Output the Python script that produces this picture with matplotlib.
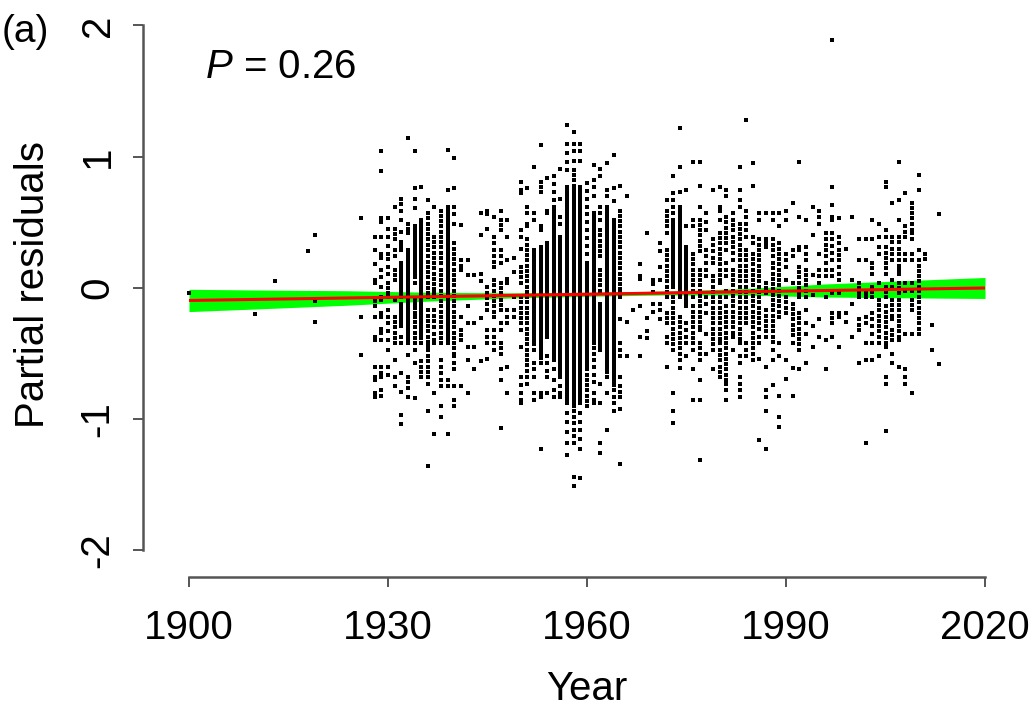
import matplotlib
matplotlib.use("Agg")
import matplotlib.pyplot as plt

plt.rcParams['font.family'] = ['Liberation Sans', 'DejaVu Sans']
plt.rcParams['mathtext.fontset'] = 'custom'
plt.rcParams['mathtext.it'] = 'Liberation Sans:italic'
plt.rcParams['mathtext.rm'] = 'Liberation Sans'

# ---------------- data ----------------
x_ticks = [1900, 1930, 1960, 1990, 2020]
x_ticklabels = ["1900", "1930", "1960", "1990", "2020"]
y_ticks = [-2, -1, 0, 1, 2]
y_ticklabels = ["-2", "-1", "0", "1", "2"]

fit_years = [1900, 2020]
fit_values = [-0.095, 0.0]

band_years = [1900, 1912, 1924, 1936, 1948, 1960, 1972, 1984, 1996, 2008, 2020]
band_lower = [-0.18, -0.156, -0.131, -0.10, -0.077, -0.063, -0.053, -0.054, -0.069, -0.075, -0.08]
band_upper = [-0.01, -0.016, -0.021, -0.032, -0.037, -0.033, -0.023, -0.004, 0.031, 0.056, 0.08]

years_early = [1900, 1910, 1913, 1918, 1919, 1926]
resid_early = [
    [-0.04], [-0.20], [0.05], [0.28], [0.40, -0.10, -0.26], [0.53, -0.22, -0.51],
]

years_1928 = [1928, 1929, 1930, 1931, 1932, 1933, 1934, 1935, 1936, 1937, 1938,
              1939, 1940, 1941, 1942, 1943, 1944, 1945, 1946, 1947, 1948, 1949]
resid_1928 = [
    [0.39, 0.29, 0.18, 0.06, 0.04, -0.08, -0.10, -0.14, -0.22, -0.37, -0.40, -0.60, -0.68, -0.70, -0.80, -0.83],
    [1.04, 0.89, 0.53, 0.50, 0.39, 0.26, 0.23, 0.14, 0.08, 0.01, -0.07, -0.09, -0.19, -0.22, -0.31, -0.34, -0.40, -0.60, -0.65, -0.68, -0.78, -0.82],
    [0.53, 0.45, 0.39, 0.32, 0.26, 0.22, 0.16, 0.11, 0.04, 0.00, -0.04, -0.07, -0.17, -0.22, -0.27, -0.33, -0.40, -0.47, -0.60, -0.66],
    [0.62, 0.45, 0.41, 0.37, 0.29, 0.24, 0.14, 0.10, 0.06, -0.09, -0.22, -0.26, -0.30, -0.34, -0.38, -0.42, -0.55, -0.68, -0.75],
    [0.68, 0.64, 0.59, 0.52, 0.43, 0.35, 0.32, 0.29, 0.19, 0.16, 0.13, 0.10, 0.07, 0.04, 0.01, -0.02, -0.05, -0.07, -0.12, -0.15, -0.18, -0.21, -0.24, -0.27, -0.29, -0.37, -0.42, -0.65, -0.79, -0.97, -1.04],
    [1.14, 0.49, 0.45, 0.42, 0.29, 0.26, 0.23, 0.20, 0.17, 0.14, 0.11, 0.08, 0.05, 0.02, -0.01, -0.04, -0.07, -0.10, -0.13, -0.16, -0.19, -0.22, -0.25, -0.28, -0.31, -0.34, -0.37, -0.40, -0.42, -0.51, -0.68, -0.72, -0.76, -0.83],
    [1.04, 0.76, 0.68, 0.61, 0.47, 0.44, 0.41, 0.38, 0.35, 0.32, 0.29, 0.26, 0.23, 0.20, 0.17, 0.14, 0.11, 0.08, 0.04, -0.09, -0.12, -0.15, -0.19, -0.22, -0.26, -0.30, -0.34, -0.38, -0.42, -0.47, -0.57, -0.84],
    [0.77, 0.52, 0.49, 0.46, 0.43, 0.40, 0.37, 0.34, 0.31, 0.28, 0.25, 0.22, 0.19, 0.16, 0.13, 0.10, 0.07, 0.04, 0.01, -0.02, -0.05, -0.08, -0.11, -0.14, -0.17, -0.20, -0.23, -0.26, -0.29, -0.32, -0.35, -0.38, -0.42, -0.56, -0.60, -0.64, -0.68],
    [0.67, 0.57, 0.53, 0.49, 0.45, 0.41, 0.37, 0.33, 0.29, 0.24, 0.20, 0.16, 0.12, 0.08, 0.04, 0.00, -0.04, -0.07, -0.17, -0.21, -0.25, -0.29, -0.33, -0.37, -0.41, -0.44, -0.47, -0.52, -0.56, -0.60, -0.64, -0.68, -0.73, -0.94, -1.36],
    [0.62, 0.39, 0.35, 0.31, 0.27, 0.23, 0.19, 0.15, 0.11, 0.07, 0.03, -0.01, -0.04, -0.07, -0.17, -0.21, -0.25, -0.30, -0.35, -0.40, -0.42, -0.80, -1.11],
    [0.59, 0.55, 0.51, 0.47, 0.43, 0.39, 0.35, 0.31, 0.27, 0.23, 0.19, 0.14, 0.10, 0.06, 0.02, -0.02, -0.06, -0.10, -0.14, -0.18, -0.22, -0.26, -0.30, -0.34, -0.38, -0.42, -0.55, -0.60, -0.65, -0.70, -0.75, -0.90, -0.98],
    [1.05, 0.75, 0.62, 0.59, 0.56, 0.53, 0.50, 0.47, 0.44, 0.41, 0.38, 0.35, 0.32, 0.29, 0.26, 0.23, 0.20, 0.17, 0.14, 0.11, 0.08, 0.05, 0.02, -0.01, -0.04, -0.07, -0.10, -0.13, -0.16, -0.19, -0.22, -0.25, -0.28, -0.31, -0.34, -0.37, -0.40, -0.42, -0.70, -0.75, -1.11],
    [0.99, 0.76, 0.62, 0.56, 0.49, 0.34, 0.30, 0.26, 0.22, 0.18, 0.14, 0.10, 0.06, 0.02, -0.02, -0.06, -0.10, -0.14, -0.18, -0.22, -0.26, -0.30, -0.34, -0.38, -0.42, -0.46, -0.50, -0.52, -0.57, -0.62, -0.75, -0.85, -0.90],
    [0.48, 0.21, 0.17, 0.14, -0.22, -0.32, -0.36, -0.40, -0.75],
    [0.21, 0.10, -0.14, -0.27, -0.45, -0.55, -0.80],
    [0.10, -0.27, -0.45, -0.62],
    [0.57, 0.40, 0.11, 0.05, -0.23, -0.56],
    [0.59, 0.56, 0.45, 0.01, -0.04, -0.08, -0.12, -0.17, -0.32, -0.37, -0.42, -0.54],
    [0.54, 0.39, 0.34, 0.29, 0.24, 0.20, 0.16, 0.06, 0.02, -0.02, -0.06, -0.10, -0.14, -0.18, -0.22, -0.32, -0.37, -0.42, -0.47],
    [0.59, 0.52, 0.48, 0.44, 0.29, 0.24, 0.19, 0.04, 0.00, -0.04, -0.09, -0.13, -0.17, -0.27, -0.32, -0.42, -0.46, -0.50, -0.62, -0.70, -1.07],
    [0.52, 0.39, 0.21, 0.07, 0.04, -0.17, -0.22, -0.27, -0.60, -0.80],
    [0.23, 0.12, -0.07, -0.17, -0.22],
]

years_1950 = [1950, 1951, 1952, 1953, 1954, 1955, 1956, 1957, 1958, 1959, 1960,
              1961, 1962, 1963, 1964, 1965, 1966, 1967, 1968, 1969, 1970, 1971]
resid_1950 = [
    [0.81, 0.75, 0.72, 0.44, 0.39, 0.30, 0.16, 0.12, 0.08, 0.04, -0.07, -0.11, -0.15, -0.19, -0.23, -0.27, -0.32, -0.45, -0.68, -0.74, -0.80, -0.85, -0.88],
    [0.76, 0.62, 0.57, 0.49, 0.47, 0.37, 0.33, 0.29, 0.25, 0.21, 0.17, 0.13, 0.09, 0.05, 0.01, -0.03, -0.07, -0.11, -0.15, -0.19, -0.23, -0.27, -0.31, -0.35, -0.39, -0.43, -0.47, -0.51, -0.55, -0.59, -0.63, -0.68, -0.73],
    [0.92, 0.57, 0.52, 0.29, 0.26, 0.23, 0.20, 0.17, 0.14, 0.11, 0.08, 0.05, 0.02, -0.01, -0.04, -0.07, -0.10, -0.13, -0.16, -0.19, -0.22, -0.25, -0.28, -0.31, -0.34, -0.37, -0.40, -0.43, -0.47, -0.57, -0.62, -0.68, -0.80, -0.85],
    [1.09, 0.81, 0.77, 0.73, 0.47, 0.44, 0.31, 0.28, 0.25, 0.22, 0.19, 0.16, 0.13, 0.10, 0.07, 0.04, 0.01, -0.02, -0.05, -0.08, -0.11, -0.14, -0.17, -0.20, -0.23, -0.26, -0.29, -0.32, -0.35, -0.38, -0.41, -0.44, -0.47, -0.50, -0.53, -0.57, -0.80, -0.83, -1.23],
    [0.84, 0.59, 0.57, 0.34, 0.31, 0.28, 0.25, 0.22, 0.19, 0.16, 0.13, 0.10, 0.07, 0.04, 0.01, -0.02, -0.05, -0.08, -0.11, -0.14, -0.17, -0.20, -0.23, -0.26, -0.29, -0.32, -0.35, -0.37, -0.52, -0.57, -0.63, -0.68, -0.80],
    [0.85, 0.79, 0.73, 0.67, 0.62, 0.59, 0.56, 0.53, 0.50, 0.47, 0.44, 0.41, 0.38, 0.35, 0.32, 0.29, 0.26, 0.23, 0.20, 0.17, 0.14, 0.11, 0.08, 0.05, 0.02, -0.01, -0.04, -0.07, -0.10, -0.13, -0.16, -0.19, -0.22, -0.25, -0.28, -0.31, -0.34, -0.37, -0.40, -0.43, -0.46, -0.49, -0.52, -0.55, -0.62, -0.70, -0.78, -0.83],
    [0.91, 0.68, 0.54, 0.49, 0.39, 0.36, 0.33, 0.30, 0.27, 0.24, 0.21, 0.18, 0.15, 0.12, 0.09, 0.06, 0.03, 0.00, -0.03, -0.06, -0.09, -0.12, -0.15, -0.18, -0.21, -0.24, -0.27, -0.30, -0.33, -0.36, -0.39, -0.42, -0.45, -0.48, -0.51, -0.54, -0.57, -0.60, -0.63, -0.66, -0.68, -0.75, -0.80, -0.83],
    [1.24, 1.10, 1.03, 0.96, 0.90, 0.77, 0.74, 0.71, 0.68, 0.65, 0.62, 0.59, 0.56, 0.53, 0.50, 0.47, 0.44, 0.41, 0.38, 0.35, 0.32, 0.29, 0.26, 0.23, 0.20, 0.17, 0.14, 0.11, 0.08, 0.05, 0.02, -0.01, -0.04, -0.07, -0.10, -0.13, -0.16, -0.19, -0.22, -0.25, -0.28, -0.31, -0.34, -0.37, -0.40, -0.43, -0.46, -0.49, -0.52, -0.55, -0.58, -0.61, -0.64, -0.67, -0.70, -0.73, -0.76, -0.79, -0.82, -0.85, -0.88, -0.95, -1.02, -1.10, -1.18, -1.27],
    [1.19, 1.10, 1.04, 0.97, 0.90, 0.86, 0.82, 0.78, 0.75, 0.72, 0.69, 0.66, 0.63, 0.60, 0.57, 0.54, 0.51, 0.48, 0.45, 0.42, 0.39, 0.36, 0.33, 0.30, 0.27, 0.24, 0.21, 0.18, 0.15, 0.12, 0.09, 0.06, 0.03, 0.00, -0.03, -0.06, -0.09, -0.12, -0.15, -0.18, -0.21, -0.24, -0.27, -0.30, -0.33, -0.36, -0.39, -0.42, -0.45, -0.48, -0.51, -0.54, -0.57, -0.60, -0.63, -0.66, -0.69, -0.72, -0.75, -0.78, -0.81, -0.84, -0.87, -0.90, -0.94, -0.98, -1.03, -1.08, -1.13, -1.18, -1.44, -1.51],
    [1.10, 1.04, 0.97, 0.77, 0.74, 0.71, 0.68, 0.65, 0.62, 0.59, 0.56, 0.53, 0.50, 0.47, 0.44, 0.41, 0.38, 0.35, 0.32, 0.29, 0.26, 0.23, 0.20, 0.17, 0.14, 0.11, 0.08, 0.05, 0.02, -0.01, -0.04, -0.07, -0.10, -0.13, -0.16, -0.19, -0.22, -0.25, -0.28, -0.31, -0.34, -0.37, -0.40, -0.43, -0.46, -0.49, -0.52, -0.55, -0.58, -0.61, -0.64, -0.67, -0.70, -0.73, -0.76, -0.79, -0.82, -0.85, -0.88, -0.95, -1.02, -1.08, -1.15, -1.23, -1.45],
    [0.80, 0.74, 0.68, 0.62, 0.56, 0.50, 0.44, 0.38, 0.32, 0.26, 0.19, 0.16, 0.13, 0.10, 0.07, 0.04, 0.01, -0.02, -0.05, -0.08, -0.11, -0.14, -0.17, -0.20, -0.23, -0.26, -0.29, -0.32, -0.35, -0.38, -0.41, -0.44, -0.47, -0.50, -0.53, -0.56, -0.59, -0.62, -0.66, -0.70, -0.74, -0.78, -0.82, -0.86, -0.90],
    [0.94, 0.82, 0.77, 0.70, 0.57, 0.54, 0.51, 0.48, 0.45, 0.42, 0.39, 0.36, 0.33, 0.30, 0.27, 0.24, 0.21, 0.18, 0.15, 0.12, 0.09, 0.06, 0.03, 0.00, -0.03, -0.06, -0.09, -0.12, -0.15, -0.18, -0.21, -0.24, -0.27, -0.30, -0.33, -0.36, -0.39, -0.42, -0.46, -0.50, -0.55, -0.60, -0.66, -0.72, -0.80, -0.85, -0.88],
    [0.91, 0.85, 0.62, 0.57, 0.52, 0.44, 0.40, 0.36, 0.32, 0.28, 0.24, 0.14, 0.10, 0.06, 0.02, -0.02, -0.04, -0.12, -0.15, -0.18, -0.21, -0.24, -0.27, -0.30, -0.33, -0.36, -0.39, -0.42, -0.45, -0.47, -0.73, -0.88, -1.18, -1.26],
    [0.95, 0.75, 0.70, 0.62, 0.59, 0.56, 0.53, 0.50, 0.47, 0.44, 0.41, 0.38, 0.35, 0.32, 0.29, 0.26, 0.23, 0.20, 0.17, 0.14, 0.11, 0.08, 0.05, 0.02, -0.01, -0.04, -0.07, -0.10, -0.13, -0.16, -0.19, -0.22, -0.25, -0.28, -0.31, -0.34, -0.37, -0.40, -0.43, -0.46, -0.49, -0.52, -0.55, -0.58, -0.61, -0.64, -0.68, -0.80, -1.08],
    [1.01, 0.76, 0.66, 0.52, 0.49, 0.46, 0.43, 0.40, 0.37, 0.34, 0.31, 0.28, 0.25, 0.22, 0.19, 0.16, 0.13, 0.10, 0.07, 0.04, 0.01, -0.02, -0.05, -0.08, -0.11, -0.14, -0.17, -0.20, -0.23, -0.26, -0.29, -0.32, -0.35, -0.38, -0.41, -0.44, -0.47, -0.50, -0.53, -0.56, -0.59, -0.62, -0.65, -0.68, -0.71, -0.74, -0.78, -0.83, -0.88, -0.94],
    [0.78, 0.59, 0.55, 0.51, 0.47, 0.43, 0.39, 0.35, 0.31, 0.27, 0.23, 0.19, 0.15, 0.11, 0.07, 0.03, -0.01, -0.04, -0.07, -0.24, -0.42, -0.47, -0.52, -0.68, -0.75, -0.79, -0.83, -0.92, -1.34],
    [0.70, -0.26, -0.52],
    [-0.17],
    [0.18, 0.09, 0.07, -0.14, -0.37, -0.52],
    [0.42, -0.23, -0.33, -0.38],
    [0.06, 0.03, -0.03, -0.12, -0.18],
    [0.34, 0.28, 0.16, 0.06, -0.12, -0.17, -0.24],
]

years_1972 = [1972, 1973, 1974, 1975, 1976, 1977, 1978, 1979, 1980, 1981, 1982, 1983,
              1984, 1985, 1986, 1987, 1988, 1989, 1990, 1991, 1992, 1993, 1994, 1995, 1996]
resid_1972 = [
    [0.67, 0.59, 0.55, 0.51, 0.47, 0.42, 0.29, 0.25, 0.21, 0.17, 0.13, 0.09, 0.05, 0.01, -0.03, -0.07, -0.19, -0.23, -0.27, -0.37, -0.42, -0.60],
    [0.85, 0.72, 0.67, 0.62, 0.57, 0.52, 0.49, 0.46, 0.43, 0.40, 0.37, 0.34, 0.31, 0.28, 0.25, 0.22, 0.19, 0.16, 0.13, 0.10, 0.07, 0.04, 0.01, -0.07, -0.11, -0.15, -0.19, -0.23, -0.27, -0.31, -0.35, -0.39, -0.43, -0.47, -0.80, -0.94, -1.03],
    [1.22, 0.92, 0.73, 0.62, 0.59, 0.56, 0.53, 0.50, 0.47, 0.44, 0.41, 0.38, 0.35, 0.32, 0.29, 0.26, 0.23, 0.20, 0.17, 0.14, 0.11, 0.08, 0.05, 0.02, -0.01, -0.04, -0.07, -0.22, -0.26, -0.30, -0.34, -0.38, -0.42, -0.46, -0.50, -0.55, -0.61],
    [0.75, 0.47, 0.31, 0.28, 0.25, 0.22, 0.19, 0.16, 0.13, 0.10, 0.07, 0.04, 0.01, -0.02, -0.05, -0.08, -0.11, -0.14, -0.27, -0.32, -0.37, -0.42, -0.52],
    [0.96, 0.52, 0.47, 0.26, 0.22, 0.18, 0.14, 0.10, 0.06, 0.02, -0.02, -0.07, -0.14, -0.18, -0.22, -0.26, -0.30, -0.34, -0.38, -0.42, -0.47, -0.62, -0.85],
    [0.96, 0.78, 0.62, 0.52, 0.48, 0.44, 0.40, 0.36, 0.32, 0.28, 0.14, 0.10, 0.06, 0.02, -0.02, -0.06, -0.10, -0.14, -0.18, -0.22, -0.26, -0.30, -0.32, -0.42, -0.46, -0.50, -0.55, -0.70, -0.85, -1.31],
    [0.57, 0.50, 0.44, 0.29, 0.24, 0.19, 0.14, 0.09, -0.07, -0.12, -0.19, -0.35, -0.50],
    [0.75, 0.37, 0.33, 0.28, 0.23, 0.19, 0.09, 0.05, 0.01, -0.03, -0.07, -0.11, -0.15, -0.19, -0.23, -0.27, -0.31, -0.35, -0.39, -0.43, -0.47, -0.62],
    [0.77, 0.62, 0.59, 0.52, 0.42, 0.38, 0.34, 0.30, 0.26, 0.22, 0.18, 0.14, 0.10, 0.06, 0.04, -0.07, -0.11, -0.15, -0.19, -0.23, -0.27, -0.31, -0.35, -0.39, -0.42, -0.47, -0.51, -0.55, -0.60, -0.64, -0.68],
    [0.75, 0.70, 0.54, 0.50, 0.46, 0.42, 0.38, 0.34, 0.29, 0.19, 0.14, 0.09, -0.02, -0.07, -0.14, -0.18, -0.22, -0.26, -0.30, -0.34, -0.38, -0.42, -0.46, -0.50, -0.54, -0.58, -0.62, -0.66, -0.70, -0.73, -0.78, -0.85],
    [0.57, 0.52, 0.48, 0.44, 0.39, 0.35, 0.31, 0.27, 0.21, 0.14, 0.10, 0.06, 0.02, -0.02, -0.06, -0.10, -0.14, -0.18, -0.22, -0.26, -0.30, -0.34, -0.37, -0.47],
    [0.92, 0.75, 0.67, 0.62, 0.49, 0.45, 0.41, 0.37, 0.33, 0.29, 0.25, 0.21, 0.17, 0.13, 0.09, 0.05, 0.01, -0.03, -0.07, -0.11, -0.15, -0.19, -0.23, -0.27, -0.31, -0.35, -0.39, -0.42, -0.52, -0.57, -0.68, -0.73, -0.78, -0.83],
    [1.28, 0.59, 0.54, 0.49, 0.44, 0.39, 0.29, 0.25, 0.21, 0.17, 0.13, 0.09, 0.05, 0.01, -0.03, -0.07, -0.11, -0.15, -0.19, -0.23, -0.27, -0.42, -0.47, -0.52],
    [0.95, 0.78, 0.39, 0.34, 0.26, 0.22, 0.18, 0.14, 0.10, 0.06, 0.02, -0.02, -0.06, -0.10, -0.14, -0.18, -0.22, -0.26, -0.30, -0.34, -0.38, -0.42, -0.46, -0.50, -0.55],
    [0.57, 0.52, 0.37, 0.33, 0.29, 0.25, 0.21, 0.17, 0.13, 0.09, 0.05, 0.01, -0.03, -0.07, -0.11, -0.15, -0.19, -0.23, -0.27, -0.31, -0.37, -0.42, -0.54, -1.16],
    [0.57, 0.37, 0.34, 0.31, 0.04, 0.00, -0.04, -0.17, -0.21, -0.25, -0.29, -0.33, -0.37, -0.60, -0.78, -0.83, -0.94, -1.23],
    [0.57, 0.52, 0.37, 0.33, 0.29, 0.24, 0.19, 0.15, 0.11, 0.07, 0.03, -0.01, -0.05, -0.09, -0.13, -0.17, -0.21, -0.25, -0.29, -0.33, -0.37, -0.41, -0.47, -0.55, -0.74],
    [0.57, 0.47, 0.34, 0.30, 0.26, 0.22, 0.18, 0.14, 0.10, 0.06, 0.02, -0.02, -0.06, -0.10, -0.14, -0.18, -0.22, -0.42, -0.52, -0.82, -0.98, -1.06],
    [0.59, 0.52, 0.26, 0.21, 0.16, 0.06, -0.07, -0.11, -0.15, -0.19, -0.55, -0.69],
    [0.65, 0.29, 0.24, 0.04, -0.12, -0.16, -0.20, -0.24, -0.28, -0.32, -0.36, -0.42, -0.61, -0.82],
    [0.96, 0.54, 0.31, 0.29, 0.16, 0.12, 0.08, 0.04, 0.00, -0.04, -0.07, -0.19, -0.23, -0.27, -0.31, -0.35, -0.39, -0.43, -0.47, -0.62],
    [0.52, 0.31, 0.26, 0.21, 0.14, 0.10, 0.06, 0.02, -0.02, -0.07, -0.17, -0.27, -0.35, -0.57],
    [0.62, 0.40, 0.10, -0.05, -0.29, -0.45],
    [0.59, 0.54, 0.49, 0.26, 0.14, 0.09, 0.04, -0.24, -0.37],
    [0.42, 0.37, 0.33, 0.29, 0.24, 0.19, 0.14, 0.09, -0.07, -0.40, -0.62],
]

years_1997 = [1997, 1998, 1999, 2000, 2001, 2002, 2003, 2004, 2005, 2006, 2007,
              2008, 2009, 2010, 2011, 2012, 2013]
resid_1997 = [
    [1.89, 0.77, 0.63, 0.54, 0.52, 0.42, 0.37, 0.32, 0.27, 0.21, 0.14, 0.09, -0.04, -0.19, -0.23, -0.27, -0.37],
    [0.53, 0.39, 0.34, 0.29, 0.25, 0.21, 0.16, 0.11, 0.06, -0.04, -0.19, -0.22, -0.45],
    [0.30, -0.19, -0.26],
    [0.54, 0.06, -0.12, -0.37],
    [0.37, 0.21, 0.04, 0.00, -0.04, -0.07, -0.24, -0.28, -0.32, -0.57],
    [0.37, 0.21, -0.04, -0.07, -0.22, -0.27, -0.42, -0.55, -1.18],
    [0.52, 0.37, 0.19, 0.15, 0.11, 0.01, -0.03, -0.07, -0.19, -0.24, -0.29, -0.35, -0.42, -0.55],
    [0.49, 0.39, 0.31, 0.26, 0.04, -0.09, -0.13, -0.17, -0.21, -0.25, -0.29, -0.33, -0.37, -0.42, -0.52],
    [0.81, 0.77, 0.44, 0.39, 0.31, 0.27, 0.23, 0.19, 0.15, 0.11, 0.01, -0.03, -0.07, -0.14, -0.18, -0.22, -0.26, -0.30, -0.34, -0.38, -0.42, -0.45, -0.68, -0.73, -1.09],
    [0.65, 0.39, 0.35, 0.30, 0.26, 0.21, 0.06, 0.01, -0.09, -0.13, -0.17, -0.21, -0.24, -0.32, -0.36, -0.40, -0.50, -0.57],
    [0.96, 0.67, 0.52, 0.39, 0.35, 0.30, 0.26, 0.21, 0.17, 0.14, 0.11, 0.04, 0.00, -0.04, -0.09, -0.13, -0.17, -0.21, -0.25, -0.29, -0.33, -0.37, -0.40, -0.60],
    [0.72, 0.47, 0.43, 0.39, 0.26, 0.21, 0.04, -0.02, -0.35, -0.62, -0.68, -0.73],
    [0.65, 0.61, 0.57, 0.53, 0.49, 0.44, 0.42, 0.37, 0.26, 0.21, 0.04, -0.02, -0.09, -0.13, -0.17, -0.35, -0.80],
    [0.86, 0.75, 0.29, 0.21, 0.17, 0.13, 0.09, 0.05, 0.01, -0.02, -0.07, -0.11, -0.15, -0.19, -0.23, -0.27, -0.31, -0.35],
    [0.26, 0.22],
    [-0.28, -0.47],
    [0.56, -0.58],
]

# ---------------- figure ----------------
W, H = 1035, 718
fig = plt.figure(figsize=(W / 100, H / 100), dpi=100)
ax = fig.add_axes([143 / W, 141 / H, (1000 - 143) / W, (703 - 141) / H])

xs, ys = [], []
for yrs, res in [(years_early, resid_early), (years_1928, resid_1928),
                 (years_1950, resid_1950), (years_1972, resid_1972),
                 (years_1997, resid_1997)]:
    for yr, vals in zip(yrs, res):
        xs.extend([yr] * len(vals))
        ys.extend(vals)

ax.fill_between(band_years, band_lower, band_upper, color='#00ff00', lw=0, zorder=1)
ax.scatter(xs, ys, s=7, marker='s', c='black', linewidths=0, zorder=2)
ax.plot(fit_years, fit_values, color='#ff0000', lw=2.2, zorder=3, solid_capstyle='butt')

ax.set_xlim(1893.07, 2022.26)
ax.set_ylim(-2.202, 2.08)

for s in ['top', 'right']:
    ax.spines[s].set_visible(False)
axis_col = '#555555'
ax.spines['left'].set_bounds(-2, 2)
ax.spines['bottom'].set_bounds(1900, 2020)
for s in ['left', 'bottom']:
    ax.spines[s].set_color(axis_col)
    ax.spines[s].set_linewidth(1.8)

ax.set_xticks(x_ticks)
ax.set_xticklabels(x_ticklabels)
ax.set_yticks(y_ticks)
ax.set_yticklabels(y_ticklabels, rotation=90, va='center', ha='right')
ax.tick_params(axis='both', direction='out', length=7, width=1.4, color=axis_col,
               labelsize=29, labelcolor='black')
ax.tick_params(axis='x', pad=16)
ax.tick_params(axis='y', pad=12)

# axis titles and annotations (pixel-positioned)
fig.text(587 / W, (H - 700) / H, "Year", fontsize=29, ha='center', va='baseline')
fig.text(52 / W, (H - 285) / H, "Partial residuals", fontsize=29, rotation=90,
         ha='right', va='center')
fig.text(2 / W, (H - 42) / H, "(a)", fontsize=28, ha='left', va='baseline')
fig.text(205 / W, (H - 78) / H, r"$P$ = 0.26", fontsize=29, ha='left', va='baseline')

fig.savefig("out.png", dpi=100)
